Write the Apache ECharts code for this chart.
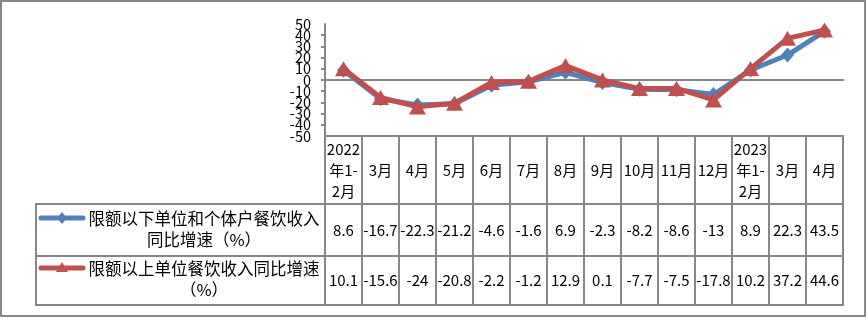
<!DOCTYPE html>
<html>
<head>
<meta charset="utf-8">
<script src="https://cdn.jsdelivr.net/npm/echarts@6/dist/echarts.min.js"></script>
<style>
html,body{margin:0;padding:0;background:#fff;}
#c{width:867px;height:318px;}
</style>
</head>
<body>
<div id="c"></div>
<script>
const categories = ['2022\n年1-\n2月','3月','4月','5月','6月','7月','8月','9月','10月','11月','12月','2023\n年1-\n2月','3月','4月'];
const seriesNames = ['限额以下单位和个体户餐饮收入\n同比增速（%）', '限额以上单位餐饮收入同比增速\n（%）'];
const below = [8.6, -16.7, -22.3, -21.2, -4.6, -1.6, 6.9, -2.3, -8.2, -8.6, -13, 8.9, 22.3, 43.5];
const above = [10.1, -15.6, -24, -20.8, -2.2, -1.2, 12.9, 0.1, -7.7, -7.5, -17.8, 10.2, 37.2, 44.6];
const yTicks = {min: -50, max: 50, interval: 10};

const FONT = "'Noto Sans CJK SC', sans-serif";
const GRAY = '#878787';
const BLUE = '#4F81BD';
const RED = '#C0504D';

const chart = echarts.init(document.getElementById('c'), null, {renderer: 'canvas'});

function tableAxis(data, offset, tickLen, margin, showLine) {
  return {
    type: 'category', gridIndex: 0, position: 'bottom', offset: offset,
    data: data,
    axisLine: {show: true, onZero: false, lineStyle: {color: GRAY, width: 2}},
    axisTick: {show: tickLen > 0, length: tickLen, interval: 0, lineStyle: {color: GRAY, width: 2}},
    axisLabel: {show: showLine !== false, interval: 0, margin: margin, verticalAlign: 'middle',
      color: '#000', fontSize: 15, fontFamily: FONT, lineHeight: 21},
    splitLine: {show: false}
  };
}

const yLabelStyle = {color: '#000', fontSize: 14.5, fontFamily: FONT, margin: 14};

const option = {
  animation: false,
  backgroundColor: '#fff',
  grid: {left: 325, right: 24, top: 24, bottom: 182, containLabel: false},
  xAxis: [
    {
      type: 'category', data: categories, boundaryGap: true,
      axisLine: {show: true, onZero: true, lineStyle: {color: GRAY, width: 2}},
      axisTick: {show: false}, axisLabel: {show: false}, splitLine: {show: false}
    },
    tableAxis(categories, 0, 68, 34),
    tableAxis(below.map(String), 68, 52, 26),
    tableAxis(above.map(String), 120, 49, 24.5),
    tableAxis(categories.map(() => ''), 169, 0, 0, false)
  ],
  yAxis: [
    {
      type: 'value', min: yTicks.min, max: yTicks.max, interval: yTicks.interval, position: 'left',
      axisLine: {show: true, lineStyle: {color: GRAY, width: 2}},
      axisTick: {show: true, length: 4, lineStyle: {color: GRAY, width: 2}},
      axisLabel: Object.assign({showMinLabel: false, showMaxLabel: false}, yLabelStyle),
      splitLine: {show: false}
    },
    {
      type: 'value', min: yTicks.min, max: yTicks.max, interval: yTicks.interval, position: 'left', offset: 0,
      axisLine: {show: false}, axisTick: {show: false}, splitLine: {show: false},
      axisLabel: Object.assign({showMinLabel: true, showMaxLabel: true,
        formatter: v => (v === yTicks.min || v === yTicks.max) ? String(v) : ''}, yLabelStyle)
    }
  ],
  series: [
    {
      name: seriesNames[0], type: 'line', data: below, xAxisIndex: 0, yAxisIndex: 0,
      symbol: 'diamond', symbolSize: [13, 15],
      lineStyle: {color: BLUE, width: 5}, itemStyle: {color: BLUE}, z: 2
    },
    {
      name: seriesNames[1], type: 'line', data: above, xAxisIndex: 0, yAxisIndex: 0,
      symbol: 'triangle', symbolSize: [17, 15],
      lineStyle: {color: RED, width: 5}, itemStyle: {color: RED}, z: 3
    }
  ],
  graphic: [
    {type: 'rect', shape: {x: 1, y: 1, width: 864, height: 315}, style: {fill: 'none', stroke: GRAY, lineWidth: 2}, silent: true},
    {type: 'line', shape: {x1: 36, y1: 204, x2: 325, y2: 204}, style: {stroke: GRAY, lineWidth: 2}},
    {type: 'line', shape: {x1: 36, y1: 256, x2: 325, y2: 256}, style: {stroke: GRAY, lineWidth: 2}},
    {type: 'line', shape: {x1: 36, y1: 305, x2: 325, y2: 305}, style: {stroke: GRAY, lineWidth: 2}},
    {type: 'line', shape: {x1: 36, y1: 203, x2: 36, y2: 306}, style: {stroke: GRAY, lineWidth: 2}},
    // legend keys
    {type: 'line', shape: {x1: 41, y1: 218, x2: 83, y2: 218}, style: {stroke: BLUE, lineWidth: 5, lineCap: 'round'}},
    {type: 'polygon', shape: {points: [[62, 212], [67, 218], [62, 224], [57, 218]]}, style: {fill: BLUE}},
    {type: 'line', shape: {x1: 41, y1: 268, x2: 83, y2: 268}, style: {stroke: RED, lineWidth: 5, lineCap: 'round'}},
    {type: 'polygon', shape: {points: [[62, 262], [68, 272], [56, 272]]}, style: {fill: RED}},
    // legend texts
    {type: 'text', style: {text: seriesNames[0], x: 204, y: 229.5, fill: '#000', fontSize: 16.5, fontFamily: FONT,
      textAlign: 'center', textVerticalAlign: 'middle', lineHeight: 21}},
    {type: 'text', style: {text: seriesNames[1], x: 204, y: 279, fill: '#000', fontSize: 16.5, fontFamily: FONT,
      textAlign: 'center', textVerticalAlign: 'middle', lineHeight: 21}}
  ]
};
chart.setOption(option);
</script>
</body>
</html>
